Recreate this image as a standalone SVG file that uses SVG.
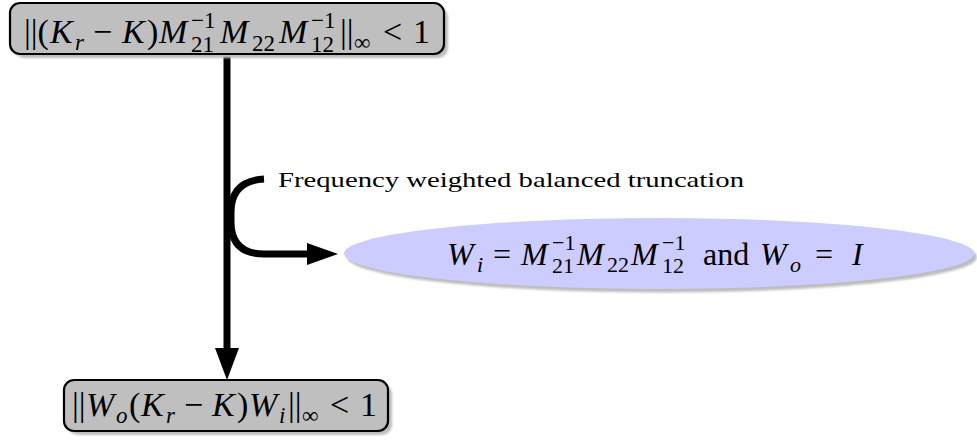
<svg xmlns="http://www.w3.org/2000/svg" width="977" height="441" viewBox="0 0 977 441">
<style>
.box{fill:#bfbfbf;stroke:#000;stroke-width:2.2}
.sh{fill:#bdbdbd}
.m{font-family:"Liberation Serif",serif;fill:#000}
.it{font-style:italic}
.conn{fill:none;stroke:#000;stroke-width:7}
</style>
<defs>
<filter id="blur" x="-5%" y="-20%" width="110%" height="140%"><feGaussianBlur stdDeviation="1"/></filter>
</defs>
<rect width="977" height="441" fill="#fff"/>
<g id="connectors">
<path class="conn" d="M227 54 L227 352"/>
<polygon points="215,348 239,348 227,380" fill="#000"/>
<path class="conn" d="M264 179 Q231 181 231 212 L231 222 Q231 254 264 254 L310 254"/>
<polygon points="307,243 338,254 307,265" fill="#000"/>
</g>
<g id="top">
<rect class="sh" x="14" y="7" width="434" height="51" rx="10" filter="url(#blur)"/>
<rect class="box" x="10" y="3" width="434" height="51" rx="10"/>
<text class="m" font-size="34">
<tspan x="24" y="43">||(</tspan><tspan class="it" x="50" y="43">K</tspan><tspan class="it" font-size="23" x="75" y="50">r</tspan><tspan x="93" y="43">−</tspan><tspan class="it" x="122" y="43">K</tspan><tspan x="147" y="43">)</tspan><tspan class="it" x="159" y="43">M</tspan><tspan font-size="23" x="191" y="28">−1</tspan><tspan font-size="23" x="191" y="52">21</tspan><tspan class="it" x="220" y="43">M</tspan><tspan font-size="23" x="252" y="51">22</tspan><tspan class="it" x="279" y="43">M</tspan><tspan font-size="23" x="311" y="28">−1</tspan><tspan font-size="23" x="311" y="52">12</tspan><tspan x="340" y="43">||</tspan><tspan font-size="23" x="354" y="50">∞</tspan><tspan x="383" y="43">&lt;</tspan><tspan x="413" y="43">1</tspan>
</text>
</g>
<g id="label">
<text class="m" font-size="22" x="278" y="187" textLength="466" lengthAdjust="spacingAndGlyphs">Frequency weighted balanced truncation</text>
</g>
<g id="weights">
<ellipse cx="662" cy="257" rx="315" ry="35.5" fill="#bdbdbd" filter="url(#blur)"/>
<ellipse cx="659" cy="253.5" rx="315" ry="35.5" fill="#ccccff"/>
<text class="m" font-size="32">
<tspan class="it" x="447" y="265">W</tspan><tspan class="it" font-size="22" x="477" y="272">i</tspan><tspan x="493" y="265">=</tspan><tspan class="it" x="521" y="265">M</tspan><tspan font-size="22" x="552" y="250">−1</tspan><tspan font-size="22" x="552" y="273">21</tspan><tspan class="it" x="577" y="265">M</tspan><tspan font-size="22" x="607" y="272">22</tspan><tspan class="it" x="631" y="265">M</tspan><tspan font-size="22" x="662" y="250">−1</tspan><tspan font-size="22" x="662" y="273">12</tspan><tspan x="703" y="265">and</tspan><tspan class="it" x="760" y="265">W</tspan><tspan class="it" font-size="22" x="790" y="272">o</tspan><tspan x="815" y="265">=</tspan><tspan class="it" x="852" y="265">I</tspan>
</text>
</g>
<g id="bottom">
<rect class="sh" x="68" y="384" width="324" height="51" rx="10" filter="url(#blur)"/>
<rect class="box" x="64" y="380" width="324" height="51" rx="10"/>
<text class="m" font-size="34">
<tspan x="72" y="416">||</tspan><tspan class="it" x="86" y="416">W</tspan><tspan class="it" font-size="23" x="116" y="423">o</tspan><tspan x="129" y="416">(</tspan><tspan class="it" x="141" y="416">K</tspan><tspan class="it" font-size="23" x="166" y="423">r</tspan><tspan x="184" y="416">−</tspan><tspan class="it" x="212" y="416">K</tspan><tspan x="237" y="416">)</tspan><tspan class="it" x="249" y="416">W</tspan><tspan class="it" font-size="23" x="279" y="423">i</tspan><tspan x="288" y="416">||</tspan><tspan font-size="23" x="302" y="423">∞</tspan><tspan x="330" y="416">&lt;</tspan><tspan x="360" y="416">1</tspan>
</text>
</g>
</svg>
